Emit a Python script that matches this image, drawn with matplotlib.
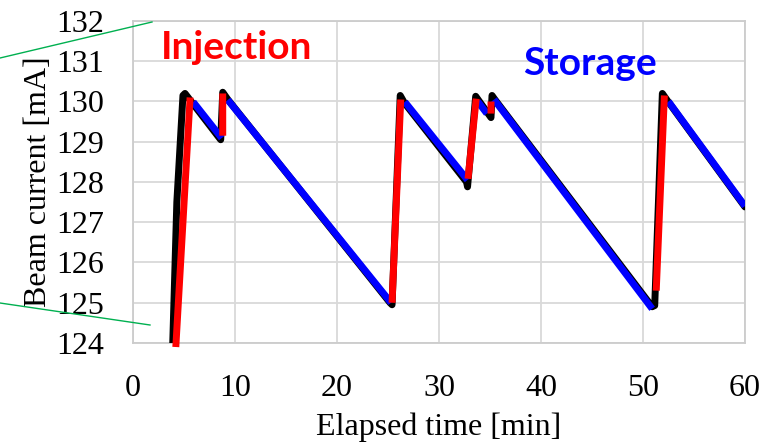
import numpy as np
import matplotlib
matplotlib.use('Agg')
import matplotlib.pyplot as plt
from matplotlib.lines import Line2D

nan = np.nan

# measured beam current (black)
meas_t = [3.9, 4.3, 4.9, 5.1, 8.6, 8.8, 9.3, 25.2, 25.4, 26.2, 26.6, 32.7, 32.8, 33.6,
          35.1, 35.2, 35.45, 50.9, 51.15, 51.9, 52.4, 60.0]
meas_i = [124.0, 127.5, 130.15, 130.2, 129.05, 130.23, 130.05, 125.0, 124.95, 130.15, 129.97, 128.0, 127.88, 130.13,
          129.6, 130.15, 130.06, 124.9, 124.93, 130.2, 130.02, 127.38]

# injection segments (red), NaN separated
inj_t = [4.2, 5.6, nan, 8.8, 8.8, nan, 25.4, 26.25, nan, 32.85, 33.65, nan, 35.1, 35.1, nan, 51.3, 52.1]
inj_i = [123.9, 130.1, nan, 129.15, 130.2, nan, 125.0, 130.05, nan, 128.08, 130.07, nan, 129.7, 130.0, nan, 125.3, 130.15]

# storage segments (blue), NaN separated
sto_t = [5.9, 8.7, nan, 9.3, 25.3, nan, 26.65, 32.8, nan, 33.8, 34.7, nan, 35.4, 50.9, nan, 52.5, 60.0]
sto_i = [129.99, 129.09, nan, 130.04, 125.0, nan, 129.99, 128.05, nan, 130.0, 129.7, nan, 130.05, 124.85, nan, 130.0, 127.4]

xticks = [0, 10, 20, 30, 40, 50, 60]
yticks = [124, 125, 126, 127, 128, 129, 130, 131, 132]

fig = plt.figure(figsize=(7.74, 4.44), dpi=100)
ax = fig.add_axes([0.1718, 0.2275, 0.7907, 0.7252])

ax.plot(meas_t, meas_i, color='black', lw=5, solid_capstyle='round', solid_joinstyle='round', zorder=3)
ax.plot(sto_t, sto_i, color='#0000ff', lw=5, solid_capstyle='butt', zorder=4)
ax.plot(inj_t, inj_i, color='#ff0000', lw=5, solid_capstyle='butt', zorder=5, clip_on=False)

ax.set_xlim(0, 60)
ax.set_ylim(124, 132)
ax.set_xticks(xticks)
ax.set_yticks(yticks)
ax.grid(True, color='#d9d9d9', lw=1.3)
ax.set_axisbelow(True)
for s in ax.spines.values():
    s.set_color('#cccccc')
    s.set_linewidth(1.3)

serif = 'Liberation Serif'
ax.tick_params(length=0, labelsize=23)
ax.tick_params(axis='y', pad=21)
ax.tick_params(axis='x', pad=22)
for lab in ax.get_xticklabels() + ax.get_yticklabels():
    lab.set_family(serif)

ax.set_xlabel('Elapsed time [min]', family=serif, fontsize=23, labelpad=7)
ax.set_ylabel('Beam current [mA]', family=serif, fontsize=23, labelpad=2)

ax.text(2.75, 131.06, 'Injection', color='#ff0000', fontsize=28, fontweight='bold',
        family='Lato', ha='left', va='baseline', zorder=6)
ax.text(38.3, 130.66, 'Storage', color='#0000ff', fontsize=28, fontweight='bold',
        family='Lato', ha='left', va='baseline', zorder=6)

# green guide lines (zoom markers)
fig.add_artist(Line2D([0.0, 152 / 774], [1 - 58 / 444, 1 - 22 / 444], color='#00b050', lw=1, transform=fig.transFigure))
fig.add_artist(Line2D([0.0, 150 / 774], [1 - 303 / 444, 1 - 325 / 444], color='#00b050', lw=1, transform=fig.transFigure))

fig.savefig('out.png', dpi=100, facecolor='white')
